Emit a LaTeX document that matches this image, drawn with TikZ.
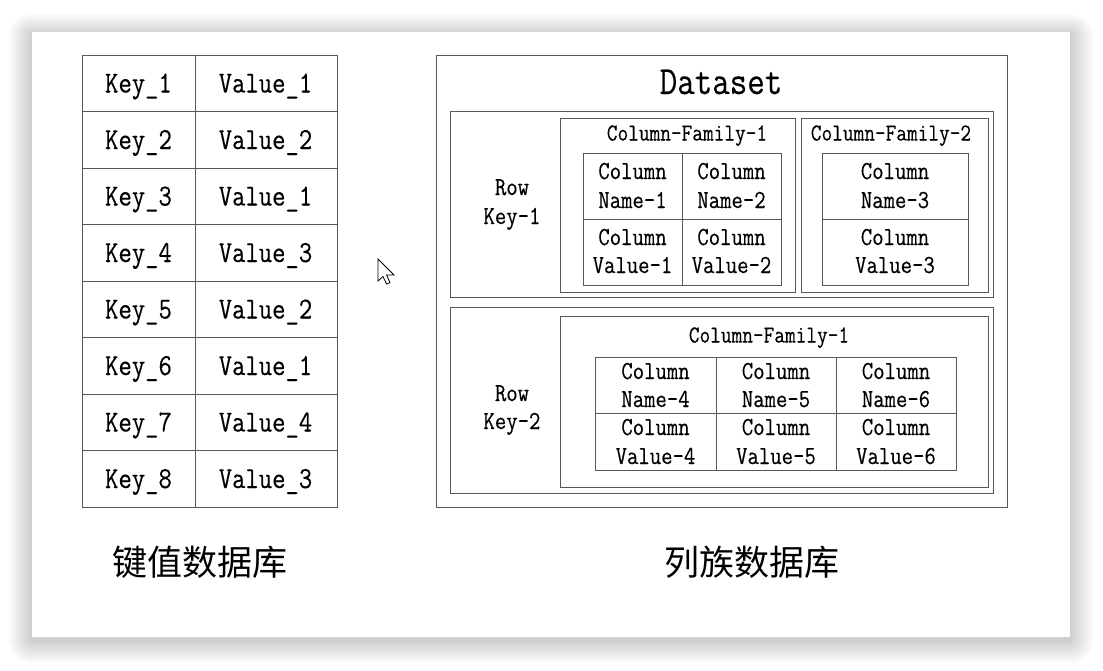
\documentclass[tikz,border=0pt]{standalone}
\usepackage{fontspec}
\newfontfamily\mono[FakeStretch=0.85,FakeBold=0.35]{Latin Modern Mono}
\newfontfamily\cjk{Noto Sans CJK SC}
\definecolor{lncol}{HTML}{585858}
\begin{document}
\begin{tikzpicture}[x=1pt,y=-1pt,
  box/.style={draw=lncol,line width=1pt},
  t/.style={anchor=base,inner sep=0pt,text=black},
  kv/.style={t,font=\mono\fontsize{30.5}{34}\selectfont},
  ds/.style={t,font=\mono\fontsize{40}{44}\selectfont},
  cl/.style={t,font=\mono\fontsize{26}{30}\selectfont},
  cf/.style={t,font=\mono\fontsize{24.4}{28}\selectfont},
  zh/.style={t,font=\cjk\fontsize{35}{40}\selectfont}]
\useasboundingbox (0,0) rectangle (1103,670);
\fill[white] (0,0) rectangle (1103,670);
% shadow
\foreach \i in {1,...,24}{
  \fill[black,opacity=0.007,rounded corners=\i pt] (32-1.0*\i,32-0.9*\i+3) rectangle (1070+1.0*\i,637+1.0*\i+3);
}
\fill[white] (32,32) rectangle (1070,637);
% key-value table
\draw[box] (82,55) rectangle (337,507);
\draw[box] (195,55) -- (195,507);
\foreach \i in {1,...,7}{ \draw[box] (82,55+56.5*\i) -- (337,55+56.5*\i); }
\foreach \k/\v [count=\i from 0] in {1/1,2/2,3/1,4/3,5/2,6/1,7/4,8/3}{
  \node[kv] (k\k) at (138.5,92.5+56.5*\i) {Key\_\k};
  \node[kv] (v\k) at (265.5,92.5+56.5*\i) {Value\_\v};
}
\node[zh] (zh1) at (200,575) {键值数据库};
\node[zh] (zh2) at (752,575) {列族数据库};
% column family db
\draw[box] (436,55) rectangle (1007,507);
\node[ds] (ds) at (721,94) {Dataset};
% row 1
\draw[box] (450,111) rectangle (993,297);
\node[cl] (r1a) at (512,195) {Row};
\node[cl] (r1b) at (512,224) {Key-1};
\draw[box] (560,118) rectangle (795,292);
\node[cf] (cf1) at (687,140.5) {Column-Family-1};
\draw[box] (583,153) rectangle (781,285);
\draw[box] (682,153) -- (682,285);
\draw[box] (583,219) -- (781,219);
\foreach \x/\n/\nm in {632.5/1/a,731.5/2/b}{
  \node[cl] (c\nm1) at (\x,179) {Column};
  \node[cl] (c\nm2) at (\x,208) {Name-\n};
  \node[cl] (c\nm3) at (\x,245) {Column};
  \node[cl] (c\nm4) at (\x,273) {Value-\n};
}
\draw[box] (801,118) rectangle (988,292);
\node[cf] (cf2) at (891,140.5) {Column-Family-2};
\draw[box] (822,153) rectangle (968,285);
\draw[box] (822,219) -- (968,219);
\node[cl] (cc1) at (895,179) {Column};
\node[cl] (cc2) at (895,208) {Name-3};
\node[cl] (cc3) at (895,245) {Column};
\node[cl] (cc4) at (895,273) {Value-3};
% row 2
\draw[box] (450,307) rectangle (993,493);
\node[cl] (r2a) at (512,401) {Row};
\node[cl] (r2b) at (512,429) {Key-2};
\draw[box] (560,316) rectangle (988,487);
\node[cf] (cf3) at (769,342.5) {Column-Family-1};
\draw[box] (595,357) rectangle (956,470);
\draw[box] (716,357) -- (716,470);
\draw[box] (836,357) -- (836,470);
\draw[box] (595,413) -- (956,413);
\foreach \x/\n/\nm in {655.5/4/d,776/5/e,896/6/f}{
  \node[cl] (c\nm1) at (\x,379) {Column};
  \node[cl] (c\nm2) at (\x,407) {Name-\n};
  \node[cl] (c\nm3) at (\x,435) {Column};
  \node[cl] (c\nm4) at (\x,464) {Value-\n};
}
% mouse cursor
\draw[black,fill=white,line width=0.8pt,line join=miter] (378,259) -- (378,281) -- (383,276.5) -- (386.5,284) -- (390,282.5) -- (386.5,275) -- (394,275) -- cycle;
\end{tikzpicture}
\end{document}
